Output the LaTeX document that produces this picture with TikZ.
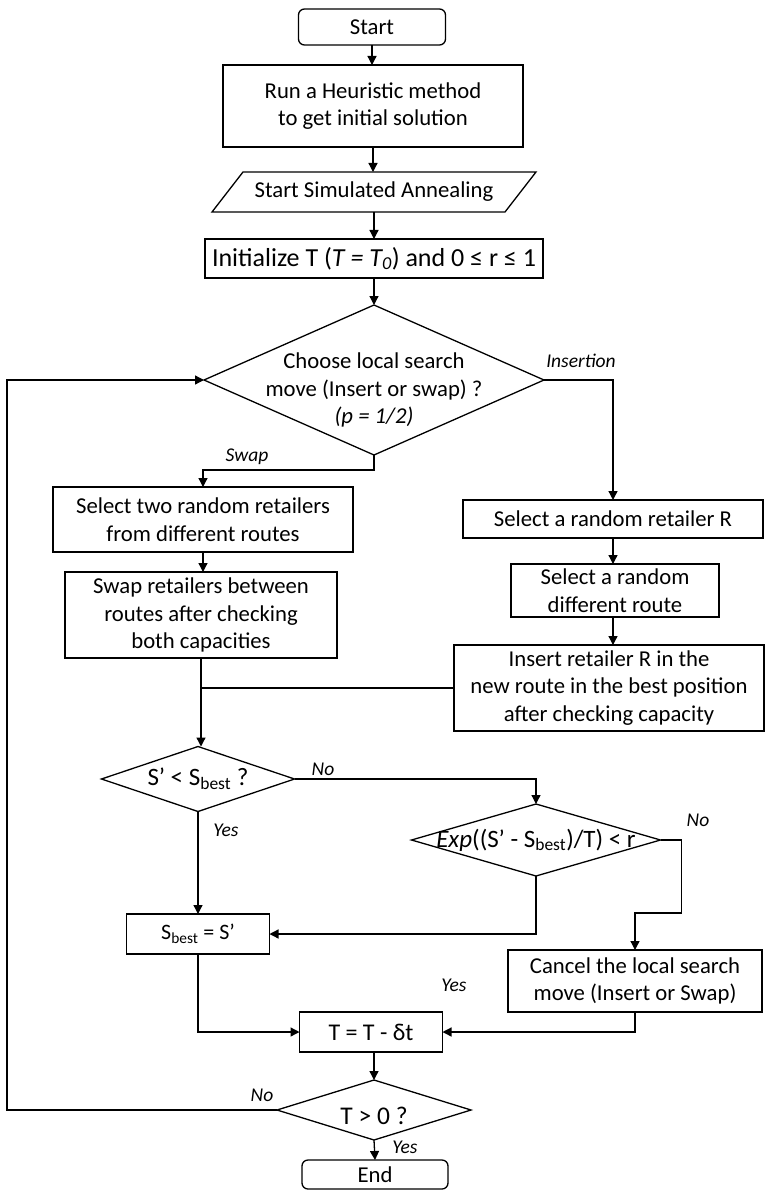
\documentclass[tikz,border=0pt]{standalone}
\usepackage{fontspec}
\setmainfont{Carlito}
\usetikzlibrary{arrows.meta,shapes.geometric}
\begin{document}
\begin{tikzpicture}[x=1pt,y=-1pt,
  every node/.style={inner sep=0pt, outer sep=0pt},
  box/.style={draw, line width=1.3pt, rectangle, align=center, font=\fontsize{22.7}{27.5}\selectfont},
  term/.style={box, rounded corners=6pt},
  dia/.style={draw, line width=1.3pt, diamond, inner sep=0pt},
  txt/.style={align=center, font=\fontsize{22.7}{27.5}\selectfont},
  big/.style={font=\fontsize{25}{28}\selectfont},
  lab/.style={font=\fontsize{19.5}{22}\selectfont\itshape},
  line/.style={line width=1.3pt},
  arr/.style={line, -{Triangle[length=9pt,width=9pt]}},
]
\useasboundingbox (0,0) rectangle (766,1190);

% nodes
\node[term, minimum width=147pt, minimum height=36pt] (start) at (372,27) {Start};
\node[box, minimum width=300pt, minimum height=82pt] (heur) at (373,106) {Run a Heuristic method\\to get initial solution};
\node[txt, minimum width=293pt, minimum height=40pt] (para) at (374,192) {Start Simulated Annealing};
\draw[line] ([xshift=-15.5pt]para.south west) -- ([xshift=15.5pt]para.north west) -- ([xshift=15.5pt]para.north east) -- ([xshift=-15.5pt]para.south east) -- cycle;
\node[box, minimum width=338pt, minimum height=39pt, font=\fontsize{26}{30}\selectfont] (init) at (374,258.5) {Initialize T (\textit{T = T\textsubscript{0}}) and 0 ≤ r ≤ 1};

\node[dia, minimum width=340pt, minimum height=150pt] (d1) at (374,380) {};
\node[txt] (d1t) at (374,390) {Choose local search\\move (Insert or swap) ?\\\textit{(p = 1/2)}};

\node[box, minimum width=300pt, minimum height=65pt] (sel2) at (203,519.5) {Select two random retailers\\from different routes};
\node[box, minimum width=300pt, minimum height=38pt] (selR) at (613,519) {Select a random retailer R};
\node[box, minimum width=272pt, minimum height=86pt] (swap) at (201,615) {Swap retailers between\\routes after checking\\both capacities};
\node[box, minimum width=208pt, minimum height=53pt] (diffR) at (615,590.5) {Select a random\\different route};
\node[box, minimum width=310pt, minimum height=86pt] (ins) at (609,688) {Insert retailer R in the\\new route in the best position\\after checking capacity};

\node[dia, minimum width=193pt, minimum height=65pt] (d2) at (198,779) {};
\node[txt, big] (d2t) at (198,779) {S’ < S\textsubscript{best} ?};
\node[dia, minimum width=249pt, minimum height=72pt] (ex) at (536,840) {};
\node[txt, big] (ext) at (536,840) {\textit{Exp}((S’ - S\textsubscript{best})/T) < r};

\node[box, minimum width=143pt, minimum height=40pt, font=\fontsize{22}{26}\selectfont] (sbest) at (198,934) {S\textsubscript{best} = S’};
\node[box, minimum width=254pt, minimum height=62pt] (cancel) at (635,981) {Cancel the local search\\move (Insert or Swap)};
\node[box, minimum width=143pt, minimum height=40pt, font=\fontsize{24}{28}\selectfont] (tt) at (371,1032) {T = T - δt};
\node[dia, minimum width=194pt, minimum height=60pt] (d3) at (374,1110) {};
\node[txt, font=\fontsize{25.5}{28}\selectfont] (d3t) at (374,1116) {T > 0 ?};
\node[term, minimum width=146pt, minimum height=29pt] (end) at (375,1174.5) {End};

% labels
\node[lab] (lIns) at (581,361) {Insertion};
\node[lab] (lSwap) at (247,457) {Swap};
\node[lab] (lNo1) at (323,769) {No};
\node[lab] (lYes1) at (226,830) {Yes};
\node[lab] (lNo2) at (698,820) {No};
\node[lab] (lYes2) at (454,985) {Yes};
\node[lab] (lNo3) at (262,1095) {No};
\node[lab] (lYes3) at (405,1147) {Yes};

% connectors
\draw[arr] (start.south) -- (start.south |- heur.north);
\draw[arr] (heur.south) -- (heur.south |- para.north);
\draw[arr] (para.south) -- (init.north);
\draw[arr] (init.south) -- (d1.north);
\draw[arr] (d1.south) -- ++(0,15) -| (sel2.north);
\draw[arr] (d1.east) -| (selR.north);
\draw[arr] (selR.south) -- (selR.south |- diffR.north);
\draw[arr] (diffR.south -| selR.south) -- (selR.south |- ins.north);
\draw[arr] (sel2.south) -- (sel2.south |- swap.north);
\draw[arr] (swap.south) -- (swap.south |- d2.north);
\draw[line] (ins.west) -- (swap.south |- ins.west);
\draw[arr] (d2.east) -| (ex.north);
\draw[arr] (d2.south) -- (sbest.north);
\draw[arr] (ex.south) |- (sbest.east);
\draw[arr] (ex.east) -- ++(21,0) -- ++(0,73) -| (cancel.north);
\draw[arr] (sbest.south) |- (tt.west);
\draw[arr] (cancel.south) |- (tt.east);
\draw[arr] (tt.south -| d3.north) -- (d3.north);
\draw[arr] (d3.west) -- ++(-270,0) |- (d1.west);
\draw[arr] (d3.south) -- (end.north);
\end{tikzpicture}
\end{document}
